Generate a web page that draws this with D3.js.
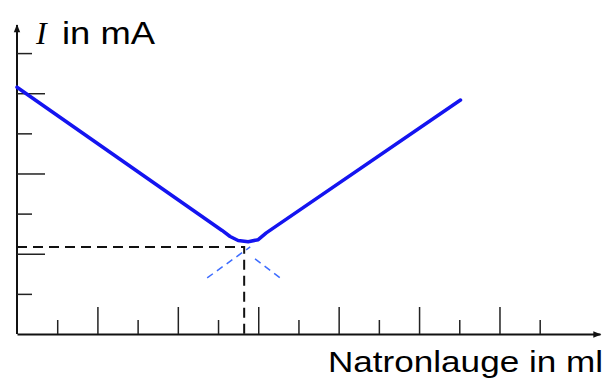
<!DOCTYPE html>
<html>
<head>
<meta charset="utf-8">
<script src="https://cdn.jsdelivr.net/npm/d3@7"></script>
<style>
  body { margin: 0; background: #fff; }
  svg { display: block; }
</style>
</head>
<body>
<svg id="chart"></svg>
<script>
// Messkurve (Leitfähigkeitstitration)
const curveX = [0, 5.1, 5.3, 5.5, 5.75, 6.0, 6.2, 11.03];
const curveY = [6.15, 2.58, 2.43, 2.33, 2.30, 2.35, 2.52, 5.83];

// Äquivalenzpunkt
const eqX = 5.65;
const eqY = 2.17;

// Verlängerungen der beiden Äste (gestrichelt)
const extLeftX = [4.73, 5.8];
const extLeftY = [1.4, 2.17];
const extRightX = [5.92, 6.54];
const extRightY = [1.87, 1.4];

const xTicks = d3.range(1, 14);
const yTicks = d3.range(1, 8);

const W = 607, H = 381;
let svg = d3.select("#chart").attr("width", W).attr("height", H);

let x = d3.scaleLinear().domain([0, 14.5]).range([17, 600]);
let y = d3.scaleLinear().domain([0, 7.7]).range([334, 25]);

let defs = svg.append("defs");
defs.append("marker")
    .attr("id", "arr")
    .attr("viewBox", "0 0 10 10")
    .attr("refX", 9).attr("refY", 5)
    .attr("markerWidth", 7).attr("markerHeight", 4)
    .attr("markerUnits", "strokeWidth")
    .attr("orient", "auto")
    .append("path").attr("d", "M0,1L10,5L0,9Z").attr("fill", "#111");

// x-Achse
let gx = svg.append("g")
    .attr("transform", `translate(0,${y(0)})`)
    .call(d3.axisBottom(x).tickValues(xTicks).tickSize(-14).tickSizeOuter(0).tickFormat(""));
gx.select(".domain").attr("stroke", "#111").attr("stroke-width", 2).attr("marker-end", "url(#arr)");
gx.selectAll(".tick line")
    .attr("stroke", "#222").attr("stroke-width", 1.5)
    .attr("y2", d => d % 2 == 0 ? -27 : -14);

// y-Achse
let gy = svg.append("g")
    .attr("transform", `translate(${x(0)},0)`)
    .call(d3.axisLeft(y).tickValues(yTicks).tickSize(-15).tickSizeOuter(0).tickFormat(""));
gy.select(".domain").attr("stroke", "#111").attr("stroke-width", 2).attr("marker-end", "url(#arr)")
    .attr("d", `M0,${y(0)}V${y.range()[1]}`);
gy.selectAll(".tick line")
    .attr("stroke", "#222").attr("stroke-width", 1.5)
    .attr("x2", d => d % 2 == 0 ? 28 : 15);

// Hilfslinien zum Äquivalenzpunkt
svg.append("path")
    .attr("d", `M${x(0)},${y(eqY)}H${x(eqX)}V${y(0)}`)
    .attr("fill", "none")
    .attr("stroke", "#111")
    .attr("stroke-width", 2)
    .attr("stroke-dasharray", "10,6");

let line = d3.line().x(d => x(d[0])).y(d => y(d[1]));

[[extLeftX, extLeftY], [extRightX, extRightY]].forEach(([xs, ys]) => {
    svg.append("path")
        .attr("d", line(d3.zip(xs, ys)))
        .attr("fill", "none")
        .attr("stroke", "#3d6cff")
        .attr("stroke-width", 1.5)
        .attr("stroke-dasharray", "7,5");
});

// Kurve
svg.append("path")
    .attr("d", line(d3.zip(curveX, curveY)))
    .attr("fill", "none")
    .attr("stroke", "#1414f0")
    .attr("stroke-width", 3.5)
    .attr("stroke-linecap", "round")
    .attr("stroke-linejoin", "round");

// Beschriftungen
svg.append("text")
    .attr("x", 36).attr("y", 44)
    .style("font-family", "'Liberation Serif', serif")
    .style("font-style", "italic")
    .style("font-size", "32px")
    .text("I");
svg.append("text")
    .attr("x", 62).attr("y", 44)
    .attr("textLength", 93).attr("lengthAdjust", "spacingAndGlyphs")
    .style("font-family", "'Liberation Sans', Arial, sans-serif")
    .style("font-size", "32px")
    .text("in mA");
svg.append("text")
    .attr("x", 328).attr("y", 372)
    .attr("textLength", 275).attr("lengthAdjust", "spacingAndGlyphs")
    .style("font-family", "'Liberation Sans', Arial, sans-serif")
    .style("font-size", "29px")
    .text("Natronlauge in ml");
</script>
</body>
</html>
